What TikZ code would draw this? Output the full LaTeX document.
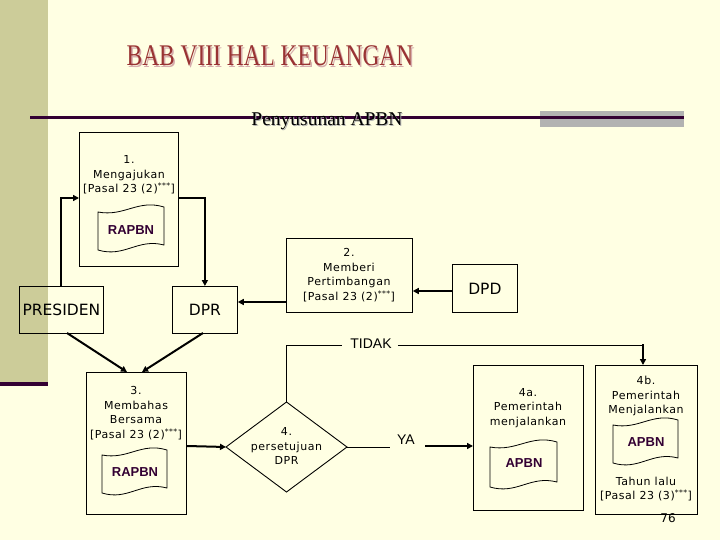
\documentclass[tikz,border=0pt]{standalone}
\usepackage{fontspec}
\setmainfont{DejaVu Sans}
\newfontfamily\boxf[LetterSpace=5]{DejaVu Sans}
\newfontfamily\arialf{Liberation Sans}
\newfontfamily\timesf{Liberation Serif}
\usetikzlibrary{arrows.meta,calc}
\definecolor{bgc}{HTML}{FFFFE3}
\definecolor{stripc}{HTML}{CCCC99}
\definecolor{darkp}{HTML}{330033}
\definecolor{titlered}{HTML}{993333}
\definecolor{grayc}{HTML}{B2B2B2}
\newcommand\docwave[4]{% L T R B
  \draw[line width=0.8pt] (#1,#2+5) .. controls ($(#1,#2)+(0.4*#3-0.4*#1,10)$) and ($(#1,#2)+(0.6*#3-0.6*#1,-8)$) .. (#3,#2)
    -- (#3,#4-5) .. controls ($(#1,#4)+(0.6*#3-0.6*#1,-12)$) and ($(#1,#4)+(0.4*#3-0.4*#1,8)$) .. (#1,#4) -- cycle;}
\begin{document}
\begin{tikzpicture}[x=1pt,y=-1pt,
  box/.style={draw=black,line width=0.8pt,anchor=north west,inner sep=0pt},
  txt/.style={font=\boxf\fontsize{11}{14.5}\selectfont,align=center,inner sep=0pt},
  big/.style={font=\fontsize{15.5}{17}\selectfont,inner sep=0pt},
  doclab/.style={font=\arialf\bfseries\fontsize{13}{15}\selectfont,text=darkp,inner sep=0pt},
  arr/.style={line width=2pt,-{Triangle[length=6pt,width=6pt]}},
  thin/.style={line width=0.9pt}]
\useasboundingbox (0,0) rectangle (720,540);
\fill[bgc] (0,0) rectangle (720,540);
\fill[stripc] (0,0) rectangle (48,383);
\fill[darkp] (0,382) rectangle (48,386);
% title
\node[inner sep=0pt,text=titlered!40] (titlesh) at (271.5,57.5) {\scalebox{0.78}[1]{\timesf\fontsize{30}{30}\selectfont BAB VIII HAL KEUANGAN}};
\node[inner sep=0pt,text=titlered] (title) at (270,56) {\scalebox{0.78}[1]{\timesf\fontsize{30}{30}\selectfont BAB VIII HAL KEUANGAN}};
% rule
\fill[grayc] (540,111) rectangle (684,127);
\draw[darkp,line width=3pt] (30,118) -- (684,118);
\node[inner sep=0pt,text=gray!60] (subsh) at (328,122) {\timesf\fontsize{19.5}{19.5}\selectfont Penyusunan APBN};
\node[inner sep=0pt] (sub) at (327,121) {\timesf\fontsize{19.5}{19.5}\selectfont Penyusunan APBN};
% box 1
\node[box,minimum width=99,minimum height=134] (b1) at (79,132) {};
\node[txt] (t1) at (129,175) {1.\\Mengajukan\\{}[Pasal 23 (2)\textsuperscript{***}]};
\docwave{98}{207}{164}{250}
\node[doclab] (d1) at (131,230) {RAPBN};
% presiden, dpr
\node[box,minimum width=84,minimum height=47] (pres) at (19,286) {};
\node[big] (prest) at (pres.center) {PRESIDEN};
\node[box,minimum width=65,minimum height=47] (dpr) at (172,286) {};
\node[big] (dprt) at (dpr.center) {DPR};
% box 2
\node[box,minimum width=126,minimum height=74] (b2) at (286,238) {};
\node[txt] (t2) at (349,275) {2.\\Memberi\\Pertimbangan\\{}[Pasal 23 (2)\textsuperscript{***}]};
\node[box,minimum width=65,minimum height=48] (dpd) at (452,264) {};
\node[big] (dpdt) at (dpd.center) {DPD};
% box 3
\node[box,minimum width=100,minimum height=142] (b3) at (86,372) {};
\node[txt] (t3) at (136,413) {3.\\Membahas\\Bersama\\{}[Pasal 23 (2)\textsuperscript{***}]};
\docwave{102}{450}{167}{493}
\node[doclab] (d3) at (135,472) {RAPBN};
% diamond
\coordinate (dtop) at (286.5,402);
\coordinate (dright) at (347,447);
\coordinate (dbot) at (286.5,492);
\coordinate (dleft) at (226,447);
\draw[thin] (dtop) -- (dright) -- (dbot) -- (dleft) -- cycle;
\node[txt] (t4) at (286.5,446) {4.\\persetujuan\\DPR};
% box 4a
\node[box,minimum width=110,minimum height=145] (b4a) at (473,365) {};
\node[txt] (t4a) at (528,408) {4a.\\Pemerintah\\menjalankan};
\docwave{490}{442}{557}{487}
\node[doclab] (d4a) at (524,463) {APBN};
% box 4b
\node[box,minimum width=102,minimum height=149] (b4b) at (595,365) {};
\node[txt] (t4b) at (646,396) {4b.\\Pemerintah\\Menjalankan};
\docwave{613}{420}{678}{463}
\node[doclab] (d4b) at (646,442) {APBN};
\node[txt] (t4c) at (646,489) {Tahun lalu\\{}[Pasal 23 (3)\textsuperscript{***}]};
\node[inner sep=0pt,font=\fontsize{12}{12}\selectfont] (pg) at (668,518) {76};
% connectors
\draw[arr] (pres.north) |- (b1.west |- 0,198);
\draw[arr] (b1.east |- 0,198) -| (dpr.north);
\draw[arr] (b2.west |- 0,302) -- (dpr.east |- 0,302);
\draw[arr] (dpd.west |- 0,291) -- (b2.east |- 0,291);
\draw[arr] (67,333) -- (127,372);
\draw[arr] (203,333) -- (142,372);
\draw[arr] (b3.east |- 0,446) -- (dleft);
% TIDAK
\node[inner sep=0pt,font=\arialf\fontsize{14}{14}\selectfont] (tidak) at (371,344) {TIDAK};
\coordinate (tc) at (286.5,345);
\draw[thin] (dtop) -- (tc) -- ([xshift=-8pt]tidak.west |- tc);
\draw[thin] ([xshift=6pt]tidak.east |- tc) -- (643,345);
\draw[arr] (643,344) -- (643,365);
% YA
\node[inner sep=0pt,font=\arialf\fontsize{14}{14}\selectfont] (ya) at (406,440) {YA};
\coordinate (yc) at (390,447);
\draw[thin] (dright) -- (yc);
\draw[arr] (425,446) -- (b4a.west |- 0,446);
\end{tikzpicture}
\end{document}
